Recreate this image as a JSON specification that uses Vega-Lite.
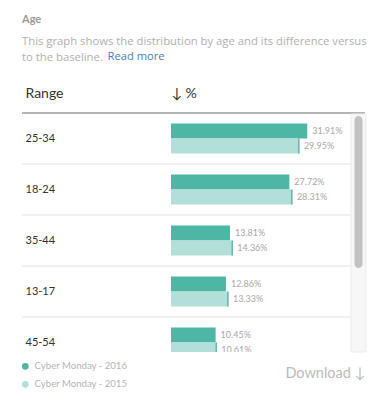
{
  "$schema": "https://vega.github.io/schema/vega-lite/v6.json",
  "width": 343,
  "height": 239,
  "autosize": {"type": "none"},
  "padding": {"left": 22, "top": 113, "right": 23, "bottom": 54},
  "background": "white",
  "config": {"font": "Lato", "view": {"stroke": null}},
  "title": {
    "text": "Age",
    "subtitle": ["This graph shows the distribution by age and its difference versus", "to the baseline."],
    "anchor": "start",
    "frame": "group",
    "offset": -13,
    "fontSize": 11,
    "fontWeight": "bold",
    "color": "#9b9b9b",
    "subtitleFont": "Open Sans",
    "subtitleFontSize": 11.3,
    "subtitleColor": "#b0b0b0",
    "subtitlePadding": 11,
    "subtitleLineHeight": 16
  },
  "datasets": {
    "age": [
      {"range": "25-34", "series": "Cyber Monday - 2016", "share": 0.3191},
      {"range": "25-34", "series": "Cyber Monday - 2015", "share": 0.2995},
      {"range": "18-24", "series": "Cyber Monday - 2016", "share": 0.2772},
      {"range": "18-24", "series": "Cyber Monday - 2015", "share": 0.2831},
      {"range": "35-44", "series": "Cyber Monday - 2016", "share": 0.1381},
      {"range": "35-44", "series": "Cyber Monday - 2015", "share": 0.1436},
      {"range": "13-17", "series": "Cyber Monday - 2016", "share": 0.1286},
      {"range": "13-17", "series": "Cyber Monday - 2015", "share": 0.1333},
      {"range": "45-54", "series": "Cyber Monday - 2016", "share": 0.1045},
      {"range": "45-54", "series": "Cyber Monday - 2015", "share": 0.1061}
    ],
    "scroll": [{"bar": "scroll", "from": 0.013, "to": 0.649}]
  },
  "layer": [
    {
      "data": {"name": "age"},
      "layer": [
        {
          "mark": {"type": "rule", "strokeWidth": 1},
          "encoding": {
            "y": {
              "field": "range", "type": "nominal", "sort": ["25-34", "18-24", "35-44", "13-17", "45-54"], "bandPosition": 0,
              "axis": {
                "orient": "left", "ticks": false, "tickSize": 0, "domain": false, "grid": false,
                "labelAlign": "left", "labelPadding": -3, "labelFontSize": 11,
                "labelColor": "#333333", "labelBaseline": "middle",
                "title": "Read more", "titleX": 85, "titleY": -54, "titleAngle": 0,
                "titleAlign": "left", "titleBaseline": "alphabetic", "titleFont": "Open Sans", "titleFontSize": 11.2,
                "titleFontWeight": "normal", "titleColor": "#4a7fb5"
              }
            },
            "color": {"condition": {"test": "datum.range === '25-34'", "value": "#9a9a9a"}, "value": "#ececec"}
          }
        },
        {
          "mark": {"type": "bar", "clip": true},
          "encoding": {
            "x": {
              "field": "share", "type": "quantitative",
              "scale": {"domain": [0, 0.4], "range": [149, 319.8]},
              "axis": {
                "orient": "top", "values": [0], "labelExpr": "'↓ %'",
                "labelAlign": "left", "labelBaseline": "alphabetic", "labelPadding": 16,
                "labelFontSize": 14, "labelColor": "#333333",
                "ticks": false, "domain": false, "grid": false,
                "title": "Range", "titleX": 3, "titleY": -16, "titleAlign": "left",
                "titleBaseline": "alphabetic", "titleAngle": 0, "titleFontSize": 14,
                "titleFontWeight": "normal", "titleColor": "#333333", "zindex": 1
              }
            },
            "y": {
              "field": "range", "type": "nominal", "sort": ["25-34", "18-24", "35-44", "13-17", "45-54"],
              "scale": {"range": [0, 255], "paddingInner": 0, "paddingOuter": 0},
              "axis": {
                "orient": "left", "ticks": false, "tickSize": 0, "domain": false, "grid": false,
                "labelAlign": "left", "labelPadding": -3, "labelFontSize": 11,
                "labelColor": "#333333", "labelBaseline": "middle",
                "title": "Read more", "titleX": 85, "titleY": -54, "titleAngle": 0,
                "titleAlign": "left", "titleBaseline": "alphabetic", "titleFont": "Open Sans", "titleFontSize": 11.2,
                "titleFontWeight": "normal", "titleColor": "#4a7fb5"
              }
            },
            "yOffset": {
              "field": "series", "type": "nominal", "sort": ["Cyber Monday - 2016", "Cyber Monday - 2015"],
              "scale": {"paddingInner": 0, "paddingOuter": 0.7}
            },
            "color": {
              "field": "series", "type": "nominal",
              "scale": {"domain": ["Cyber Monday - 2016", "Cyber Monday - 2015"], "range": ["#4db6a5", "#b2e0d9"]},
              "legend": {
                "orient": "none", "legendX": -1.5, "legendY": 248.5, "title": null,
                "symbolType": "circle", "symbolSize": 45, "symbolStrokeWidth": 0,
                "labelFontSize": 9.6, "labelColor": "#b5b5b5", "labelOffset": 4.5,
                "rowPadding": 7, "padding": 0, "direction": "vertical"
              }
            }
          }
        },
        {
          "transform": [{"filter": "datum.series === 'Cyber Monday - 2015'"}],
          "mark": {"type": "tick", "color": "#3f978b", "thickness": 1.5, "size": 15, "clip": true},
          "encoding": {
            "x": {"field": "share", "type": "quantitative", "axis": null},
            "y": {
              "field": "range", "type": "nominal", "sort": ["25-34", "18-24", "35-44", "13-17", "45-54"],
              "axis": {
                "orient": "left", "ticks": false, "tickSize": 0, "domain": false, "grid": false,
                "labelAlign": "left", "labelPadding": -3, "labelFontSize": 11,
                "labelColor": "#333333", "labelBaseline": "middle",
                "title": "Read more", "titleX": 85, "titleY": -54, "titleAngle": 0,
                "titleAlign": "left", "titleBaseline": "alphabetic", "titleFont": "Open Sans", "titleFontSize": 11.2,
                "titleFontWeight": "normal", "titleColor": "#4a7fb5"
              }
            },
            "yOffset": {"field": "series", "type": "nominal", "sort": ["Cyber Monday - 2016", "Cyber Monday - 2015"]}
          }
        },
        {
          "mark": {"type": "text", "align": "left", "dx": 5, "fontSize": 9, "color": "#a8a8a8", "baseline": "middle", "clip": true},
          "encoding": {
            "x": {
              "field": "share", "type": "quantitative",
              "axis": {
                "orient": "bottom", "domain": false, "ticks": false, "labels": false, "grid": false,
                "title": "Download ↓", "titleX": 343, "titleY": 21, "titleAlign": "right",
                "titleBaseline": "middle", "titleFontSize": 14.5, "titleFontWeight": "normal",
                "titleColor": "#bbbbbb"
              }
            },
            "y": {
              "field": "range", "type": "nominal", "sort": ["25-34", "18-24", "35-44", "13-17", "45-54"],
              "axis": {
                "orient": "left", "ticks": false, "tickSize": 0, "domain": false, "grid": false,
                "labelAlign": "left", "labelPadding": -3, "labelFontSize": 11,
                "labelColor": "#333333", "labelBaseline": "middle",
                "title": "Read more", "titleX": 85, "titleY": -54, "titleAngle": 0,
                "titleAlign": "left", "titleBaseline": "alphabetic", "titleFont": "Open Sans", "titleFontSize": 11.2,
                "titleFontWeight": "normal", "titleColor": "#4a7fb5"
              }
            },
            "yOffset": {"field": "series", "type": "nominal", "sort": ["Cyber Monday - 2016", "Cyber Monday - 2015"]},
            "text": {"field": "share", "format": ".2%"}
          }
        }
      ],
      "resolve": {"axis": {"x": "independent"}}
    },
    {
      "data": {"name": "scroll"},
      "encoding": {
        "x": {"field": "bar", "type": "nominal", "scale": {"range": [329, 344]}, "axis": null}
      },
      "layer": [
        {
          "mark": {"type": "bar", "width": 15, "color": "#f7f7f7", "stroke": "#ebebeb", "strokeWidth": 1},
          "encoding": {
            "y": {"datum": 0.004, "type": "quantitative", "scale": {"domain": [0, 1], "reverse": true}, "axis": null},
            "y2": {"datum": 1}
          }
        },
        {
          "mark": {"type": "bar", "width": 8, "cornerRadius": 4, "color": "#c2c2c2"},
          "encoding": {
            "y": {"field": "from", "type": "quantitative", "axis": null},
            "y2": {"field": "to"}
          }
        }
      ]
    }
  ],
  "resolve": {"scale": {"x": "independent", "y": "independent"}}
}
